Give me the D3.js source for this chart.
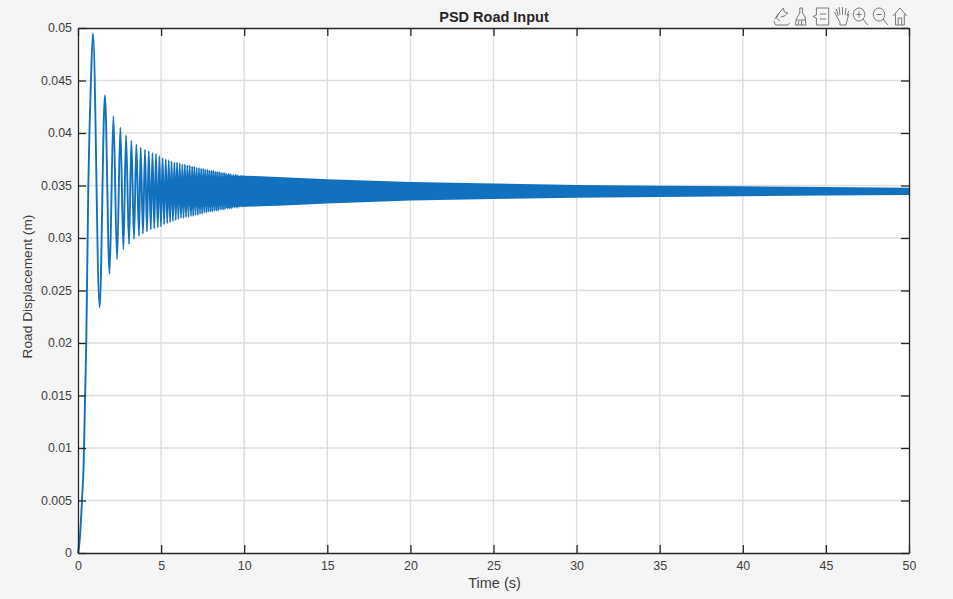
<!doctype html>
<html>
  <head>
    <meta charset="utf-8">
    <title>PSD Road Input</title>
    <style>
    html, body {
      margin: 0;
      background-color: #f5f5f5;
    }
    svg {
      display: block;
    }
    text {
      font-family: 'Liberation Sans', Arial, sans-serif;
      fill: #404040;
    }
    .tick text {
      font-size: 12.4px;
    }
    </style>
    <script src="https://cdnjs.cloudflare.com/ajax/libs/d3/7.8.5/d3.min.js"></script>
  </head>
  <body>
    <div id="chart"></div>
    <script>
      // data
      const xTicks = [0, 5, 10, 15, 20, 25, 30, 35, 40, 45, 50];
      const yTicks = [0, 0.005, 0.01, 0.015, 0.02, 0.025, 0.03, 0.035, 0.04, 0.045, 0.05];
      const yTickLabels = ['0', '0.005', '0.01', '0.015', '0.02', '0.025', '0.03', '0.035', '0.04', '0.045', '0.05'];

      // first climb from rest
      const riseTime = [0, 0.1, 0.24, 0.34, 0.42, 0.5, 0.62, 0.78];
      const riseDisp = [0, 0.0012, 0.005, 0.0085, 0.0145, 0.0203, 0.0349, 0.045];

      // turning points of the oscillation, peak, trough, peak ...
      const turnTime = [0.90, 1.30, 1.62, 1.90, 2.13, 2.35, 2.55, 2.73, 2.89, 3.07, 3.21, 3.37, 3.51, 3.67, 3.77, 3.91,
        4.03, 4.15, 4.26, 4.38, 4.48, 4.59, 4.69, 4.80, 4.90, 4.99, 5.09, 5.18, 5.28, 5.37, 5.46, 5.54,
        5.63, 5.71, 5.80, 5.88, 5.96, 6.04, 6.12, 6.20, 6.28, 6.35, 6.43, 6.50, 6.58, 6.65, 6.72, 6.80,
        6.87, 6.93, 7.00, 7.07, 7.14, 7.21, 7.28, 7.34, 7.41, 7.47, 7.54, 7.60, 7.66, 7.73, 7.79, 7.85,
        7.91, 7.97, 8.03, 8.09, 8.15, 8.21, 8.27, 8.33, 8.38, 8.44, 8.50, 8.56, 8.61, 8.67, 8.72, 8.78,
        8.83, 8.89, 8.94, 9.00, 9.05, 9.10, 9.15, 9.21, 9.26, 9.31, 9.36, 9.41, 9.47, 9.52, 9.57, 9.62,
        9.67, 9.72, 9.77, 9.81, 9.86, 9.91, 9.96, 10.01];
      const turnDisp = [0.0495, 0.0234, 0.0436, 0.0266, 0.0416, 0.0280, 0.0405, 0.0289, 0.0398, 0.0294, 0.0393, 0.0299, 0.0389, 0.0302, 0.0386, 0.0304,
        0.0384, 0.0306, 0.0383, 0.0308, 0.0381, 0.0309, 0.0380, 0.0310, 0.0378, 0.0311, 0.0376, 0.0313, 0.0375, 0.0314, 0.0374, 0.0315,
        0.0373, 0.0316, 0.0372, 0.0317, 0.0372, 0.0318, 0.0371, 0.0319, 0.0370, 0.0319, 0.0370, 0.0320, 0.0369, 0.0320, 0.0369, 0.0321,
        0.0368, 0.0321, 0.0368, 0.0322, 0.0367, 0.0322, 0.0367, 0.0323, 0.0366, 0.0323, 0.0366, 0.0324, 0.0365, 0.0324, 0.0365, 0.0325,
        0.0364, 0.0325, 0.0364, 0.0325, 0.0364, 0.0326, 0.0363, 0.0326, 0.0363, 0.0326, 0.0363, 0.0327, 0.0362, 0.0327, 0.0362, 0.0327,
        0.0362, 0.0328, 0.0361, 0.0328, 0.0361, 0.0328, 0.0361, 0.0328, 0.0360, 0.0329, 0.0360, 0.0329, 0.0360, 0.0329, 0.0360, 0.0329,
        0.0359, 0.0330, 0.0359, 0.0330, 0.0359, 0.0330, 0.0359, 0.0330];

      // solid core of the swings, which merge fully past about 10 s
      const bandTime = [7, 8, 9, 10, 11, 12, 15, 20, 25, 30, 35, 40, 45, 50];
      const bandUpper = [0.0354, 0.0356, 0.0358, 0.03585, 0.0358, 0.03572, 0.0355, 0.03525, 0.0351, 0.03497, 0.0349, 0.03484, 0.03476, 0.03471];
      const bandLower = [0.0336, 0.0334, 0.0332, 0.03305, 0.0331, 0.03316, 0.03338, 0.03365, 0.0338, 0.03393, 0.034, 0.03406, 0.03414, 0.03419];

      const width = 953, height = 599;
      const margin = {top: 28, right: 44, bottom: 46, left: 78};
      const lineColor = '#1171be';

      const x = d3.scaleLinear().domain([0, 50]).range([margin.left, width - margin.right]);
      const y = d3.scaleLinear().domain([0, 0.05]).range([height - margin.bottom, margin.top]);

      const svg = d3.select('#chart')
        .append('svg')
        .attr('width', width)
        .attr('height', height);

      svg.append('rect')
        .attr('x', margin.left)
        .attr('y', margin.top)
        .attr('width', width - margin.left - margin.right)
        .attr('height', height - margin.top - margin.bottom)
        .attr('fill', '#fff');

      // grid
      svg.append('g')
        .selectAll('line')
        .data(xTicks.slice(1, -1))
        .join('line')
        .attr('x1', d => x(d)).attr('x2', d => x(d))
        .attr('y1', margin.top).attr('y2', height - margin.bottom)
        .attr('stroke', '#dedede').attr('stroke-width', 1.4);

      svg.append('g')
        .selectAll('line')
        .data(yTicks.slice(1, -1))
        .join('line')
        .attr('y1', d => y(d)).attr('y2', d => y(d))
        .attr('x1', margin.left).attr('x2', width - margin.right)
        .attr('stroke', '#dedede').attr('stroke-width', 1.4);

      // response curve
      const curve = riseTime.map((t, i) => [t, riseDisp[i]])
        .concat(turnTime.map((t, i) => [t, turnDisp[i]]));

      const line = d3.line()
        .x(d => x(d[0]))
        .y(d => y(d[1]))
        .curve(d3.curveMonotoneX);

      svg.append('path')
        .attr('d', line(curve))
        .attr('fill', 'none')
        .attr('stroke', lineColor)
        .attr('stroke-width', 1.9)
        .attr('stroke-linejoin', 'round');

      const band = d3.area()
        .x((d, i) => x(bandTime[i]))
        .y0((d, i) => y(bandLower[i]))
        .y1(d => y(d));

      svg.append('path')
        .attr('d', band(bandUpper))
        .attr('fill', lineColor)
        .attr('stroke', lineColor)
        .attr('stroke-width', 1.8)
        .attr('stroke-linejoin', 'round');

      // axes with inward ticks on all four sides
      const tickLen = 8;
      const bottomAxis = d3.axisBottom(x).tickValues(xTicks).tickFormat(d3.format('d')).tickSizeInner(-tickLen).tickSizeOuter(0).tickPadding(8);
      const topAxis = d3.axisTop(x).tickValues(xTicks).tickFormat('').tickSizeInner(-tickLen).tickSizeOuter(0);
      const leftAxis = d3.axisLeft(y).tickValues(yTicks).tickFormat((d, i) => yTickLabels[i]).tickSizeInner(-tickLen).tickSizeOuter(0).tickPadding(6);
      const rightAxis = d3.axisRight(y).tickValues(yTicks).tickFormat('').tickSizeInner(-tickLen).tickSizeOuter(0);

      const axes = [
        [bottomAxis, 0, height - margin.bottom],
        [topAxis, 0, margin.top],
        [leftAxis, margin.left, 0],
        [rightAxis, width - margin.right, 0]
      ];
      axes.forEach(a => {
        const g = svg.append('g').attr('transform', `translate(${a[1]},${a[2]})`).call(a[0]);
        g.attr('font-family', null).attr('font-size', null);
        g.selectAll('path, line').attr('stroke', '#262626').attr('stroke-width', 1.3);
        g.selectAll('text').attr('fill', '#404040');
      });

      // titles
      svg.append('text')
        .attr('x', 494)
        .attr('y', 22)
        .attr('text-anchor', 'middle')
        .style('font-size', '14.5px')
        .style('font-weight', 'bold')
        .style('fill', '#262626')
        .text('PSD Road Input');

      svg.append('text')
        .attr('x', 494.5)
        .attr('y', 588)
        .attr('text-anchor', 'middle')
        .style('font-size', '14.5px')
        .text('Time (s)');

      svg.append('text')
        .attr('transform', 'translate(32,286.5) rotate(-90)')
        .attr('text-anchor', 'middle')
        .style('font-size', '13.7px')
        .text('Road Displacement (m)');

      // toolbar icons
      const icons = [
        [772, 'M3 14 L8 8 L11 5 L13 3 L14 7 L18 8 L14 11 L10 12 M2 16 L4 20 L18 20 L20 18 M8 8 L5 13 L9 16'],
        [791, 'M10 3 L13 3 L13 8 L16 12 L17 20 L5 20 L6 14 L10 8 Z M6 15 L16 15 M8 20 L9 16 M12 20 L12 16'],
        [812, 'M5 3 L19 3 L19 20 L5 20 L5 13 L1 11.5 L5 10 Z M9 9 L16 9 M9 14 L16 14'],
        [832, 'M5 11 L3 7 M5 11 L9 17 L9 20 L16 20 L17 16 L19 9 M7 11 L5 4 M9 10 L8 2 M12 10 L12 2 M15 10 L16 3 M17 11 L19 6'],
        [852, 'M8 3 A6.5 6.5 0 1 0 8.01 3 M12.5 14 L18 20 M5 9.5 L11 9.5 M8 6.5 L8 12.5'],
        [872, 'M8 3 A6.5 6.5 0 1 0 8.01 3 M12.5 14 L18 20 M5 9.5 L11 9.5'],
        [892, 'M1 11 L9 3 L17 11 M4 9 L4 20 L14 20 L14 9 M7 20 L7 13 L11 13 L11 20']
      ];

      svg.append('g')
        .selectAll('path')
        .data(icons)
        .join('path')
        .attr('transform', d => `translate(${d[0]},5) scale(0.88,1)`)
        .attr('d', d => d[1])
        .attr('fill', 'none')
        .attr('stroke', '#707070')
        .attr('stroke-width', 1);
    </script>
  </body>
</html>
